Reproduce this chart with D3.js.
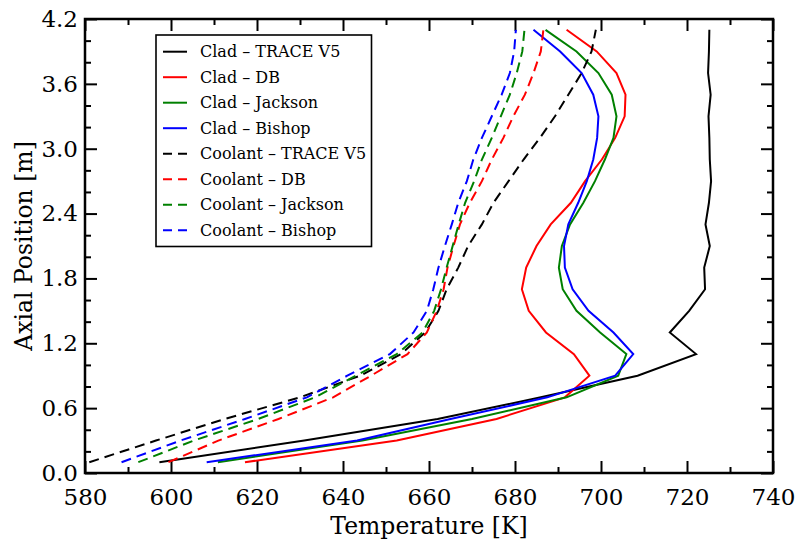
<!DOCTYPE html>
<html>
<head>
<meta charset="utf-8">
<script src="https://cdn.jsdelivr.net/npm/d3@7"></script>
<style>
  html, body { margin: 0; padding: 0; background: #fff; }
  svg { display: block; }
  text { font-family: "DejaVu Serif", serif; fill: #000; }
</style>
</head>
<body>
<svg id="chart" width="798" height="547"></svg>
<script>
// Axial positions of the nodes [m]
const axialPosition = [0.1, 0.3, 0.5, 0.7, 0.9, 1.1, 1.3, 1.5, 1.7, 1.9, 2.1,
                       2.3, 2.5, 2.7, 2.9, 3.1, 3.3, 3.5, 3.7, 3.9, 4.1];

// Cladding temperatures [K]
const cladTrace = [597.3, 631.0, 662.0, 686.0, 708.5, 722.1, 716.0, 720.5, 724.2, 724.0, 725.3,
                   724.3, 725.1, 725.6, 725.3, 725.2, 725.0, 725.5, 724.9, 725.1, 725.2];
const cladDB = [617.2, 652.5, 675.7, 691.6, 697.3, 693.7, 687.2, 683.2, 681.6, 682.6, 685.0,
                688.3, 693.0, 696.3, 700.2, 703.3, 705.5, 705.7, 703.6, 699.0, 692.0];
const cladJackson = [610.9, 644.5, 670.0, 692.0, 704.0, 705.9, 699.8, 694.3, 691.1, 690.2, 690.9,
                     692.8, 695.9, 698.6, 700.9, 702.9, 703.6, 702.5, 699.4, 694.3, 687.1];
const cladBishop = [608.3, 643.3, 665.0, 687.5, 703.3, 707.5, 702.9, 697.1, 693.4, 691.6, 691.4,
                    692.4, 694.7, 696.7, 698.2, 699.1, 699.4, 698.2, 695.5, 690.5, 684.3];

// Coolant temperatures [K]
const coolantTrace = [581.0, 596.5, 612.5, 630.0, 644.0, 653.5, 659.1, 662.2, 664.1, 666.8, 669.1,
                      672.3, 675.0, 678.5, 682.0, 685.8, 689.3, 692.4, 695.5, 697.8, 698.8];
const coolantDB = [599.4, 611.0, 625.0, 637.7, 646.5, 655.0, 659.5, 661.8, 663.4, 664.3, 665.7,
                   667.2, 669.5, 672.3, 674.6, 677.3, 679.6, 682.3, 684.3, 686.0, 686.6];
const coolantJackson = [592.4, 605.3, 620.3, 633.5, 643.0, 652.5, 658.5, 661.2, 662.8, 664.1, 665.5,
                        666.9, 668.4, 670.5, 672.3, 674.6, 676.7, 678.8, 680.4, 681.7, 682.2];
const coolantBishop = [588.5, 602.2, 617.2, 631.6, 641.0, 650.9, 656.4, 659.5, 661.0, 662.2, 663.7,
                       665.3, 666.8, 668.8, 670.3, 672.3, 674.6, 676.9, 678.8, 679.8, 680.2];

// Tick values
const xMajorTicks = [580, 600, 620, 640, 660, 680, 700, 720, 740];
const xMinorTicks = [590, 610, 630, 650, 670, 690, 710, 730];
const yMajorTicks = [0.0, 0.6, 1.2, 1.8, 2.4, 3.0, 3.6, 4.2];
const yMinorTicks = [0.2, 0.4, 0.8, 1.0, 1.4, 1.6, 2.0, 2.2, 2.6, 2.8, 3.2, 3.4, 3.8, 4.0];

const seriesNames = ["Clad \u2013 TRACE V5", "Clad \u2013 DB", "Clad \u2013 Jackson", "Clad \u2013 Bishop",
                     "Coolant \u2013 TRACE V5", "Coolant \u2013 DB", "Coolant \u2013 Jackson", "Coolant \u2013 Bishop"];
const seriesValues = [cladTrace, cladDB, cladJackson, cladBishop,
                      coolantTrace, coolantDB, coolantJackson, coolantBishop];
const seriesColors = ["#000000", "#ff0000", "#008000", "#0000ff",
                      "#000000", "#ff0000", "#008000", "#0000ff"];
const seriesDashed = [false, false, false, false, true, true, true, true];

const plot = { left: 85, right: 773, top: 19, bottom: 473 };
const svg = d3.select("#chart");

const x = d3.scaleLinear().domain([580, 740]).range([plot.left, plot.right]);
const y = d3.scaleLinear().domain([0, 4.2]).range([plot.bottom, plot.top]);

const majorLen = 12, minorLen = 6;

function styleAxis(g) {
  g.select(".domain").remove();
  g.selectAll(".tick line").attr("stroke", "#000").attr("stroke-width", 2);
  g.selectAll(".tick text").style("font-family", "DejaVu Serif, serif").style("font-size", "23px");
}

// bottom axis
svg.append("g").attr("transform", `translate(0,${plot.bottom})`)
  .call(d3.axisBottom(x).tickValues(xMajorTicks).tickSize(-majorLen).tickPadding(16).tickFormat(d3.format("d")))
  .call(styleAxis);
svg.append("g").attr("transform", `translate(0,${plot.bottom})`)
  .call(d3.axisBottom(x).tickValues(xMinorTicks).tickSize(-minorLen).tickFormat(""))
  .call(styleAxis);
// top axis
svg.append("g").attr("transform", `translate(0,${plot.top})`)
  .call(d3.axisTop(x).tickValues(xMajorTicks).tickSize(-majorLen).tickFormat(""))
  .call(styleAxis);
svg.append("g").attr("transform", `translate(0,${plot.top})`)
  .call(d3.axisTop(x).tickValues(xMinorTicks).tickSize(-minorLen).tickFormat(""))
  .call(styleAxis);
// left axis
svg.append("g").attr("transform", `translate(${plot.left},0)`)
  .call(d3.axisLeft(y).tickValues(yMajorTicks).tickSize(-majorLen).tickPadding(7).tickFormat(d3.format(".1f")))
  .call(styleAxis);
svg.append("g").attr("transform", `translate(${plot.left},0)`)
  .call(d3.axisLeft(y).tickValues(yMinorTicks).tickSize(-minorLen).tickFormat(""))
  .call(styleAxis);
// right axis
svg.append("g").attr("transform", `translate(${plot.right},0)`)
  .call(d3.axisRight(y).tickValues(yMajorTicks).tickSize(-majorLen).tickFormat(""))
  .call(styleAxis);
svg.append("g").attr("transform", `translate(${plot.right},0)`)
  .call(d3.axisRight(y).tickValues(yMinorTicks).tickSize(-minorLen).tickFormat(""))
  .call(styleAxis);

// curves
const line = d3.line().x(d => x(d[0])).y(d => y(d[1]));
const curves = svg.append("g");
seriesValues.forEach((vals, i) => {
  curves.append("path")
    .datum(vals.map((t, k) => [t, axialPosition[k]]))
    .attr("d", line)
    .attr("fill", "none")
    .attr("stroke", seriesColors[i])
    .attr("stroke-width", 2)
    .attr("stroke-linejoin", "miter")
    .attr("stroke-dasharray", seriesDashed[i] ? "10,6" : null);
});

// frame
svg.append("rect")
  .attr("x", plot.left).attr("y", plot.top)
  .attr("width", plot.right - plot.left).attr("height", plot.bottom - plot.top)
  .attr("fill", "none").attr("stroke", "#000").attr("stroke-width", 2.5);

// axis titles
svg.append("text")
  .attr("x", (plot.left + plot.right) / 2).attr("y", 534)
  .attr("text-anchor", "middle").style("font-size", "23.5px")
  .text("Temperature [K]");
svg.append("text")
  .attr("transform", `translate(32,${(plot.top + plot.bottom) / 2}) rotate(-90)`)
  .attr("text-anchor", "middle").style("font-size", "23.5px")
  .text("Axial Position [m]");

// legend
const legend = svg.append("g");
legend.append("rect")
  .attr("x", 156).attr("y", 35).attr("width", 215.5).attr("height", 211.5)
  .attr("fill", "#fff").attr("stroke", "#000").attr("stroke-width", 1.6);
seriesNames.forEach((name, i) => {
  const cy = 51.7 + i * 25.5;
  legend.append("line")
    .attr("x1", 163).attr("x2", 187).attr("y1", cy).attr("y2", cy)
    .attr("stroke", seriesColors[i]).attr("stroke-width", 2)
    .attr("stroke-dasharray", seriesDashed[i] ? "9,6" : null);
  legend.append("text")
    .attr("x", 200).attr("y", cy).attr("dy", "0.36em")
    .style("font-size", "16px")
    .text(name);
});
</script>
</body>
</html>
